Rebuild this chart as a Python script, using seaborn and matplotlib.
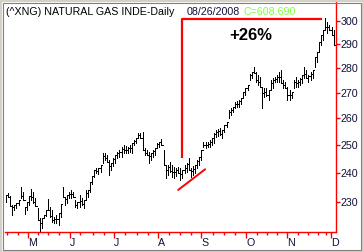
import numpy as np
import pandas as pd
import matplotlib
matplotlib.use("Agg")
import matplotlib.pyplot as plt
import seaborn as sns
from matplotlib.ticker import FixedLocator, NullLocator
from matplotlib.patches import Rectangle

# ---------------- data ----------------
high = [232.4, 233.1, 232.1, 229.0, 229.0, 229.7, 230.7, 235.1, 233.4, 228.3,
        230.0, 232.1, 234.5, 233.4, 231.4, 228.0, 224.6, 224.6, 225.6, 227.3,
        231.0, 228.3, 227.3, 225.0, 225.6, 226.3, 229.3, 235.1, 231.7, 232.4,
        233.4, 234.1, 233.4, 230.7, 230.0, 232.4, 231.4, 230.7, 234.1, 234.1,
        236.8, 238.9, 241.0, 241.7, 241.7, 242.8, 247.1, 247.1, 246.4, 244.6,
        243.5, 245.3, 246.4, 247.5, 248.2, 249.3, 250.1, 249.7, 249.3, 250.1,
        250.8, 251.9, 252.6, 254.5, 254.5, 254.9, 249.0, 248.2, 247.5, 247.1,
        248.2, 249.0, 250.8, 251.2, 252.3, 248.2, 242.8, 242.8, 243.9, 242.8,
        242.1, 241.7, 242.1, 241.7, 241.0, 242.8, 243.5, 245.3, 241.7, 242.4,
        242.8, 244.6, 245.7, 248.2, 251.2, 251.2, 251.2, 251.9, 252.6, 254.5,
        255.6, 256.0, 256.4, 255.6, 257.5, 258.6, 263.2, 264.0, 264.4, 266.3,
        266.7, 267.1, 267.9, 270.3, 271.9, 273.1, 277.5, 278.4, 280.4, 278.4,
        277.1, 276.3, 272.3, 271.9, 271.9, 271.1, 275.1, 275.9, 276.3, 277.1,
        278.4, 279.2, 275.1, 274.3, 272.3, 271.1, 270.3, 275.1, 276.3, 275.1,
        275.9, 277.1, 280.4, 279.2, 277.1, 278.4, 279.2, 284.5, 286.7, 290.8,
        293.9, 296.1, 301.3, 299.6, 298.2, 297.4, 296.1, 286.7]
low = [230.0, 231.7, 228.7, 225.6, 227.3, 228.0, 229.0, 231.4, 230.7, 226.0,
       227.3, 229.0, 230.7, 229.7, 228.7, 224.0, 220.4, 221.3, 224.6, 225.3,
       227.3, 225.0, 223.3, 223.0, 223.0, 222.3, 225.0, 231.7, 229.0, 229.7,
       231.4, 231.4, 231.7, 228.3, 228.0, 228.3, 229.0, 228.0, 230.7, 231.7,
       233.4, 236.1, 238.6, 240.0, 239.6, 240.3, 243.5, 244.6, 243.9, 239.3,
       241.0, 242.4, 243.5, 245.3, 245.7, 245.7, 247.1, 247.1, 247.1, 247.5,
       247.1, 250.1, 250.8, 252.6, 252.6, 248.2, 246.4, 246.4, 243.5, 244.6,
       245.7, 246.4, 249.0, 249.3, 250.1, 242.8, 238.2, 239.3, 240.3, 238.6,
       238.2, 238.9, 240.0, 237.5, 238.2, 240.0, 240.3, 241.0, 238.6, 239.3,
       240.0, 241.7, 242.8, 244.6, 249.3, 249.0, 249.3, 249.3, 250.1, 250.8,
       253.1, 253.4, 253.8, 252.6, 254.9, 256.8, 260.2, 261.3, 262.5, 264.0,
       264.4, 264.4, 265.6, 267.9, 269.1, 271.1, 275.1, 275.9, 278.0, 274.3,
       273.1, 272.3, 264.0, 268.3, 268.7, 267.1, 271.1, 271.9, 274.3, 274.3,
       274.3, 273.9, 271.9, 271.9, 267.1, 267.1, 267.9, 271.9, 272.3, 272.3,
       273.1, 273.9, 275.9, 275.9, 274.3, 275.1, 275.9, 280.4, 282.5, 286.7,
       289.6, 291.7, 296.1, 294.8, 296.1, 293.9, 289.6, 279.2]
close = [232.4, 231.7, 228.7, 228.2, 228.9, 229.7, 230.7, 232.0, 230.7, 228.3,
         230.0, 232.1, 231.6, 230.0, 228.7, 224.0, 223.0, 224.6, 225.6, 227.3,
         227.3, 225.3, 224.0, 224.3, 224.3, 226.3, 229.3, 231.7, 231.1, 232.4,
         232.8, 232.6, 231.7, 229.0, 230.0, 230.2, 229.4, 230.7, 232.9, 234.1,
         236.8, 238.9, 240.9, 240.7, 241.6, 242.8, 245.9, 245.2, 243.9, 242.3,
         243.5, 245.0, 246.4, 247.0, 247.5, 248.6, 248.4, 248.2, 248.8, 249.0,
         250.8, 251.7, 252.6, 253.6, 252.6, 248.2, 247.3, 246.4, 245.9, 247.0,
         247.7, 249.0, 250.3, 251.2, 250.1, 242.8, 241.0, 242.1, 240.7, 240.2,
         240.3, 241.0, 240.0, 239.6, 241.0, 241.9, 243.1, 241.0, 240.8, 241.4,
         242.8, 244.2, 245.7, 248.2, 250.1, 250.2, 250.6, 251.3, 252.6, 254.3,
         254.7, 255.1, 254.1, 255.6, 257.5, 258.6, 262.6, 263.4, 264.4, 265.5,
         265.7, 266.7, 267.9, 270.3, 271.9, 273.1, 277.1, 278.4, 278.0, 275.1,
         274.3, 272.3, 270.1, 270.3, 269.1, 271.1, 273.9, 275.3, 275.7, 276.3,
         276.5, 273.9, 273.1, 271.9, 269.1, 269.1, 270.3, 274.3, 273.7, 274.5,
         275.5, 277.1, 277.6, 275.9, 276.8, 277.6, 279.2, 284.5, 286.7, 290.8,
         293.9, 296.1, 297.2, 297.2, 296.1, 293.9, 289.6, 281.0]

month_labels = ["M", "J", "J", "A", "S", "O", "N", "D"]
y_tick_values = [230, 240, 250, 260, 270, 280, 290, 300]

title_text = "(^XNG) NATURAL GAS INDE-Daily"
date_text = "08/26/2008"
close_text = "C=608.690"
gain_text = "+26%"

# annotation geometry (bar index / index value)
bracket_x = [83.8, 83.8, 150.5]
bracket_y = [245.3, 300.9, 300.9]
trend_x = [82.0, 94.8]
trend_y = [234.1, 241.3]

# ---------------- layout ----------------
W, H = 363, 252
sns.set_theme(style="white")
plt.rcParams["font.family"] = ["Liberation Sans", "DejaVu Sans"]

fig = plt.figure(figsize=(W / 100, H / 100), dpi=100, facecolor="white")
ax = fig.add_axes([5 / W, 20 / H, 331 / W, 230 / H])
ax.set_facecolor("white")
ax.set_yscale("log")
ax.set_xlim(-0.476, 157.14)
ax.set_ylim(220.07, 308.5)

df = pd.DataFrame({"i": np.arange(len(high)), "high": high, "low": low, "close": close})
ax.vlines(df["i"], df["low"], df["high"], color="black", lw=0.72, antialiased=False)
ax.hlines(df["close"], df["i"], df["i"] + 0.9, color="black", lw=0.72, antialiased=False)

# red annotation bracket and trend line
ax.plot(bracket_x, bracket_y, color="#ff0000", lw=1.6, solid_capstyle="butt")
sns.lineplot(x=trend_x, y=trend_y, color="#ff0000", lw=1.4, ax=ax, estimator=None, sort=False)

ax.text(116.7, 293.5, gain_text, ha="center", va="center", fontsize=12,
        fontweight="bold", color="black")

# spines
for s in ["top", "left"]:
    ax.spines[s].set_visible(False)
for s in ["bottom", "right"]:
    ax.spines[s].set_visible(True)
    ax.spines[s].set_color("#ff0000")
    ax.spines[s].set_linewidth(1.0)

# y axis on right
ax.yaxis.tick_right()
ax.yaxis.set_major_locator(FixedLocator(y_tick_values))
ax.yaxis.set_minor_locator(NullLocator())
ax.set_yticklabels([str(v) for v in y_tick_values])
ax.tick_params(axis="y", which="major", direction="out", length=3, width=1,
               color="#ff0000", pad=0.5, labelsize=7.7, labelcolor="#101038",
               left=False, right=True)

# x axis month ticks
month_pos = [10.5, 30.5, 51.4, 72.4, 92.9, 114.3, 133.8, 154.8]
ax.xaxis.set_major_locator(FixedLocator(month_pos))
ax.set_xticklabels(month_labels)
minor_pos = [0.3, 5.8, 15.3, 20.0, 25.2, 35.2, 41.2, 46.7, 56.7, 62.3, 67.4,
             77.7, 82.9, 88.1, 98.4, 103.7, 109.0, 119.4, 124.1, 128.9, 138.9,
             143.9, 148.7, 152.6]
ax.xaxis.set_minor_locator(FixedLocator(minor_pos))
ax.tick_params(axis="x", which="major", direction="out", length=4.5, width=1,
               color="#ff0000", pad=-0.3, labelsize=7.7, labelcolor="#101038",
               bottom=True, top=False)
ax.tick_params(axis="x", which="minor", direction="out", length=2.2, width=1,
               color="#ff0000", bottom=True, top=False)
for lbl in ax.get_xticklabels():
    lbl.set_horizontalalignment("left")
ax.grid(False)

# header texts
ty = 1 - 11.7 / H
fig.text(6 / W, ty, title_text, fontsize=7.7, color="black", va="center", ha="left")
fig.text(187 / W, ty, date_text, fontsize=7.7, color="#101038", va="center", ha="left")
fig.text(243 / W, ty, close_text, fontsize=7.7, color="#80ff40", va="center", ha="left")

# window-style frame
fig.patches.append(Rectangle((0.5 / W, 0.5 / H), (W - 1) / W, (H - 1) / H,
                             transform=fig.transFigure, fill=False,
                             edgecolor="#d4d0c8", lw=1.6))
fig.patches.append(Rectangle((2.5 / W, 2.5 / H), (W - 5) / W, (H - 5) / H,
                             transform=fig.transFigure, fill=False,
                             edgecolor="#808080", lw=0.8))

fig.savefig("out.png", dpi=100, facecolor="white")
